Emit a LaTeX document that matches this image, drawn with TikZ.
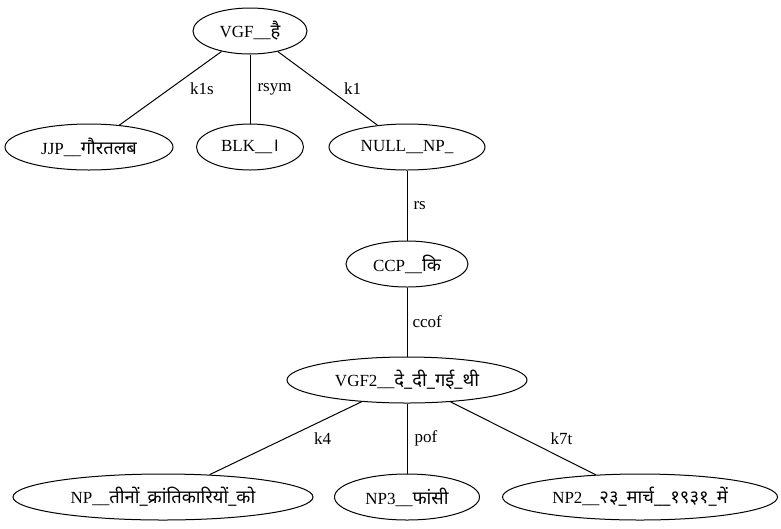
\documentclass[tikz,border=0pt]{standalone}
\usepackage{fontspec}
\setmainfont{Liberation Serif}
\newfontfamily\deva[Script=Devanagari,Scale=1.08]{Noto Sans}
\usetikzlibrary{shapes.geometric}
\newcommand{\hin}[1]{{\deva #1}}
\tikzset{x=1pt, y=-1pt, % pixel-like units, y grows downwards
every node/.style={font=\fontsize{17}{20}\selectfont},
word/.style=
    { % Sets the properties for each chunk
        draw,
        ellipse,
        line width=1pt,
        inner xsep=-25pt, inner ysep=0pt,
        minimum height=46pt
    },
rel/.style={anchor=west, inner sep=0pt}, % relation names beside the lines
    every edge/.style={ % Sets the properties for each dependency
        draw,
        line width=1pt
    }
}
\begin{document}
\begin{tikzpicture}
\useasboundingbox (0,0) rectangle (781,528);
\node [word,minimum width=114pt] (1) at (250,31)  {VGF\_\_\hin{है}};
\node [word,minimum width=168pt] (2) at (89,147)  {JJP\_\_\hin{गौरतलब}};
\node [word,minimum width=107pt] (3) at (250,147) {BLK\_\_\hin{।}};
\node [word,minimum width=156pt] (4) at (407,147) {NULL\_\_NP\_};
\node [word,minimum width=122pt] (5) at (407,264) {CCP\_\_\hin{कि}};
\node [word,minimum width=240pt] (6) at (407,380) {VGF2\_\_\hin{दे\_दी\_गई\_थी}};
\node [word,minimum width=300pt] (7) at (163,497) {NP\_\_\hin{तीनों\_क्रांतिकारियों\_को}};
\node [word,minimum width=145pt] (8) at (407,497) {NP3\_\_\hin{फांसी}};
\node [word,minimum width=275pt] (9) at (640,497) {NP2\_\_\hin{२३\_मार्च\_\_१९३१\_में}};

\draw
    (1) edge node[rel,xshift=19pt]{k1s} (2)
    (1) edge node[rel,xshift=7pt]{rsym} (3)
    (1) edge node[rel,xshift=16pt]{k1} (4)
    (4) edge node[rel,xshift=6pt]{rs} (5)
    (5) edge node[rel,xshift=5pt]{ccof} (6)
    (6) edge node[rel,xshift=28pt]{k4} (7)
    (6) edge node[rel,xshift=7pt]{pof} (8)
    (6) edge node[rel,xshift=27pt]{k7t} (9)
    ;
\end{tikzpicture}
\end{document}
